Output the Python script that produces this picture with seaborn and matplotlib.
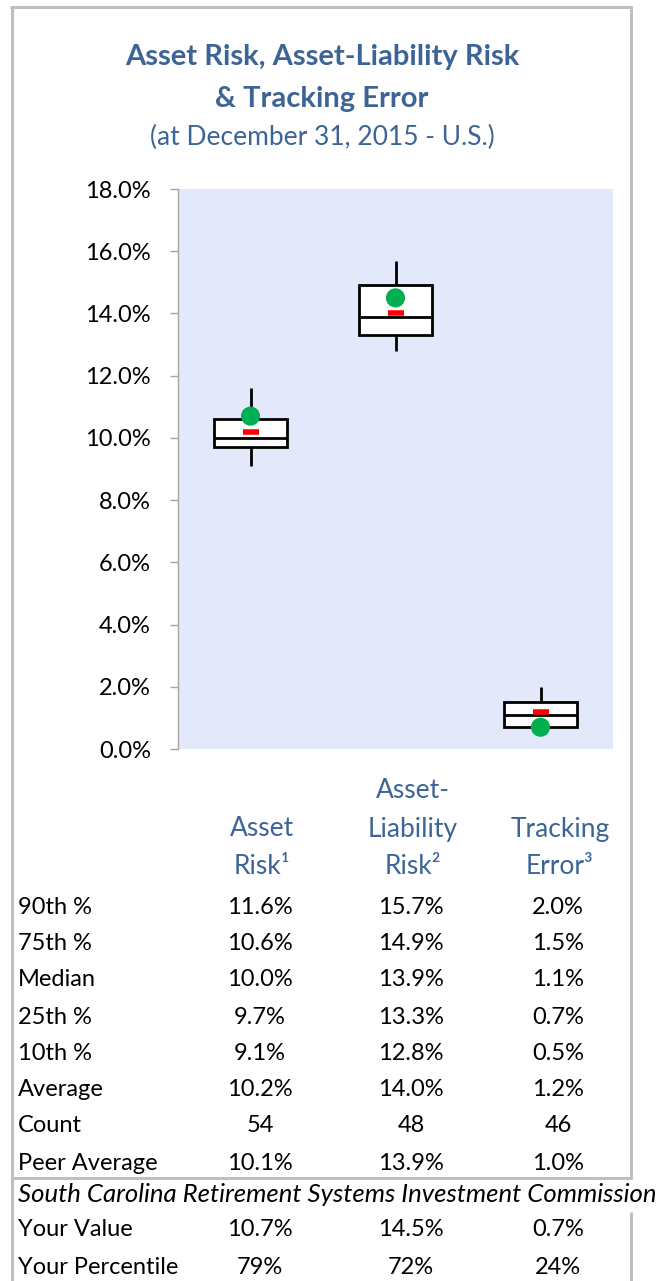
import matplotlib
matplotlib.use("Agg")
import matplotlib.pyplot as plt
from matplotlib.lines import Line2D
import numpy as np
import pandas as pd
import seaborn as sns

# ---- data (percent) ----
categories = ["Asset Risk", "Asset-Liability Risk", "Tracking Error"]
p90 = [11.6, 15.7, 2.0]
p75 = [10.6, 14.9, 1.5]
median = [10.0, 13.9, 1.1]
p25 = [9.7, 13.3, 0.7]
p10 = [9.1, 12.8, 0.5]
average = [10.2, 14.0, 1.2]
count = [54, 48, 46]
peer_average = [10.1, 13.9, 1.0]
your_value = [10.7, 14.5, 0.7]
your_percentile = [79, 72, 24]
y_ticks = [0, 2, 4, 6, 8, 10, 12, 14, 16, 18]

W, H = 661, 1281
BLUE = "#3C6496"
GRID = "#BFBFBF"
FONT = ["Lato", "DejaVu Sans"]

sns.set_theme(style="white")
plt.rcParams["font.family"] = FONT

fig = plt.figure(figsize=(W / 100, H / 100), dpi=100)


def fx(x):
    return x / W


def fy(y):
    return 1 - y / H


# ---- box plot ----
ax_l, ax_r, ax_t, ax_b = 178, 613, 189, 749
ax = fig.add_axes([fx(ax_l), fy(ax_b), fx(ax_r - ax_l), (ax_b - ax_t) / H])
ax.set_facecolor("#E3E9FB")

rows = []
for i, cat in enumerate(categories):
    for v in (p10[i], p25[i], median[i], p75[i], p90[i]):
        rows.append({"category": cat, "value": v})
df = pd.DataFrame(rows)

sns.boxplot(
    data=df, x="category", y="value", order=categories, ax=ax,
    color="white", linecolor="black", linewidth=2.0, width=0.51,
    whis=(0, 100), showcaps=False, showfliers=False,
    boxprops={"facecolor": "white"},
)

pos = np.arange(len(categories))
sns.scatterplot(x=pos, y=average, marker="_", s=120, linewidth=4,
                color="#FF0000", ax=ax, zorder=6)
sns.scatterplot(x=pos, y=your_value, marker="o", s=190, color="#00B050",
                edgecolor="none", ax=ax, zorder=7)

ax.set_xlim(-0.5, 2.5)
ax.set_ylim(0, 18)
ax.set_yticks(y_ticks)
ax.set_yticklabels([f"{t:.1f}%" for t in y_ticks], fontsize=17, color="black")
ax.set_xticks([])
ax.set_xlabel("")
ax.set_ylabel("")
for s in ("top", "right", "bottom"):
    ax.spines[s].set_visible(False)
ax.spines["left"].set_color("#A6A6A6")
ax.spines["left"].set_linewidth(1)
ax.tick_params(axis="y", left=True, length=5.5, width=1, color="#A6A6A6", pad=14)

# ---- titles ----
fig.text(fx(322), fy(57), "Asset Risk, Asset-Liability Risk", ha="center", va="center",
         fontsize=21, fontweight="bold", color=BLUE)
fig.text(fx(322), fy(99), "& Tracking Error", ha="center", va="center",
         fontsize=21, fontweight="bold", color=BLUE)
fig.text(fx(322), fy(137), "(at December 31, 2015 - U.S.)", ha="center", va="center",
         fontsize=19, color=BLUE)

# ---- table ----
col_x = [260, 411, 558]
hdr_lines = [[None, "Asset", "Risk\u00b9"], ["Asset-", "Liability", "Risk\u00b2"],
             [None, "Tracking", "Error\u00b3"]]
hdr_y = [791, 829, 866]
for cx, lines in zip(col_x, hdr_lines):
    for yy, t in zip(hdr_y, lines):
        if t:
            fig.text(fx(cx + 2), fy(yy), t, ha="center", va="center",
                     fontsize=19, color=BLUE)

TS = 17
table_rows = [
    ("90th %", [f"{v:.1f}%" for v in p90], 908),
    ("75th %", [f"{v:.1f}%" for v in p75], 944),
    ("Median", [f"{v:.1f}%" for v in median], 980),
    ("25th %", [f"{v:.1f}%" for v in p25], 1017),
    ("10th %", [f"{v:.1f}%" for v in p10], 1053),
    ("Average", [f"{v:.1f}%" for v in average], 1090),
    ("Count", [str(v) for v in count], 1126),
    ("Peer Average", [f"{v:.1f}%" for v in peer_average], 1163),
    ("Your Value", [f"{v:.1f}%" for v in your_value], 1230),
    ("Your Percentile", [f"{v}%" for v in your_percentile], 1268),
]
for label, vals, yy in table_rows:
    fig.text(fx(18), fy(yy), label, ha="left", va="center", fontsize=TS, color="black")
    for cx, v in zip(col_x, vals):
        fig.text(fx(cx), fy(yy), v, ha="center", va="center", fontsize=TS, color="black")

fig.text(fx(18), fy(1195), "South Carolina Retirement Systems Investment Commission",
         ha="left", va="center", fontsize=18.5, style="italic", color="black")

# ---- frame ----
def seg(x0, y0, x1, y1):
    fig.add_artist(Line2D([fx(x0), fx(x1)], [fy(y0), fy(y1)], color=GRID,
                          linewidth=2.2, transform=fig.transFigure, solid_capstyle="butt"))

seg(10, 7, 632, 7)
seg(12, 6, 12, 1281)
seg(631, 6, 631, 1179)
seg(12, 1178, 632, 1178)
seg(631, 1212, 631, 1281)

fig.savefig("out.png", dpi=100, facecolor="white")
